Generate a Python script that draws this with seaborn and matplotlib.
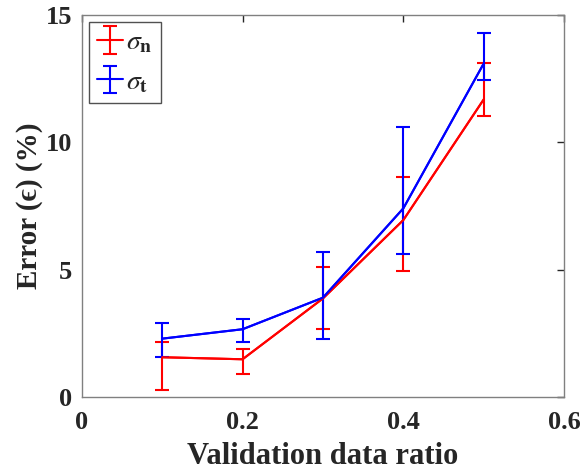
import numpy as np
import pandas as pd
import matplotlib
matplotlib.use("Agg")
import matplotlib.pyplot as plt
import seaborn as sns

ratio = [0.1, 0.2, 0.3, 0.4, 0.5]
sn_mean = [1.56, 1.48, 3.87, 6.95, 11.69]
sn_upper = [2.16, 1.87, 5.12, 8.64, 13.13]
sn_lower = [0.27, 0.90, 2.67, 4.95, 11.02]
st_mean = [2.29, 2.66, 3.90, 7.41, 13.10]
st_upper = [2.92, 3.05, 5.69, 10.60, 14.28]
st_lower = [1.58, 2.16, 2.29, 5.61, 12.45]
xticks = [0, 0.2, 0.4, 0.6]
yticks = [0, 5, 10, 15]

sns.set_theme(style="white")
plt.rcParams['font.family'] = ['Liberation Serif', 'DejaVu Serif']
plt.rcParams['mathtext.fontset'] = 'stix'

fig = plt.figure(figsize=(5.84, 4.72), dpi=100)
ax = fig.add_axes([0.140, 0.159, 0.826, 0.809])

df = pd.DataFrame({
    'ratio': ratio * 2,
    'err': sn_mean + st_mean,
    'series': ['n'] * 5 + ['t'] * 5,
})
pal = {'n': '#ff0000', 't': '#0000ff'}
sns.lineplot(data=df, x='ratio', y='err', hue='series', palette=pal,
             ax=ax, legend=False, linewidth=1.5)

h1 = ax.errorbar(ratio, sn_mean,
                 yerr=[np.array(sn_mean) - np.array(sn_lower), np.array(sn_upper) - np.array(sn_mean)],
                 color='#ff0000', lw=1.5, elinewidth=1.5, capsize=5, capthick=1.5)
h2 = ax.errorbar(ratio, st_mean,
                 yerr=[np.array(st_mean) - np.array(st_lower), np.array(st_upper) - np.array(st_mean)],
                 color='#0000ff', lw=1.5, elinewidth=1.5, capsize=5, capthick=1.5)

ax.set_xlim(0, 0.6)
ax.set_ylim(0, 15)
ax.set_xticks(xticks)
ax.set_xticklabels(['0', '0.2', '0.4', '0.6'])
ax.set_yticks(yticks)
ax.tick_params(direction='in', length=5, width=1, colors='#262626', top=True, right=True,
               labelsize=19)
ax.tick_params(axis='x', pad=10)
ax.tick_params(axis='y', pad=7)
for lab in ax.get_xticklabels() + ax.get_yticklabels():
    lab.set_fontweight('bold')
for sp in ax.spines.values():
    sp.set_color('#808080')
    sp.set_linewidth(1.0)
ax.set_xlabel('Validation data ratio', fontsize=22, fontweight='bold', labelpad=6)
ax.set_ylabel('Error (\u03f5) (%)', fontsize=21, fontweight='bold', labelpad=1.5)

leg = ax.legend([h1, h2], [r'$\sigma_{\mathbf{n}}$', r'$\sigma_{\mathbf{t}}$'],
                loc='upper left', fontsize=20, frameon=True, fancybox=False,
                handlelength=0.95, borderpad=0.3, labelspacing=0.5,
                handletextpad=0.1, borderaxespad=0.25)
leg.get_frame().set_edgecolor('#262626')
leg.get_frame().set_linewidth(1.0)

fig.savefig('out.png', dpi=100)
